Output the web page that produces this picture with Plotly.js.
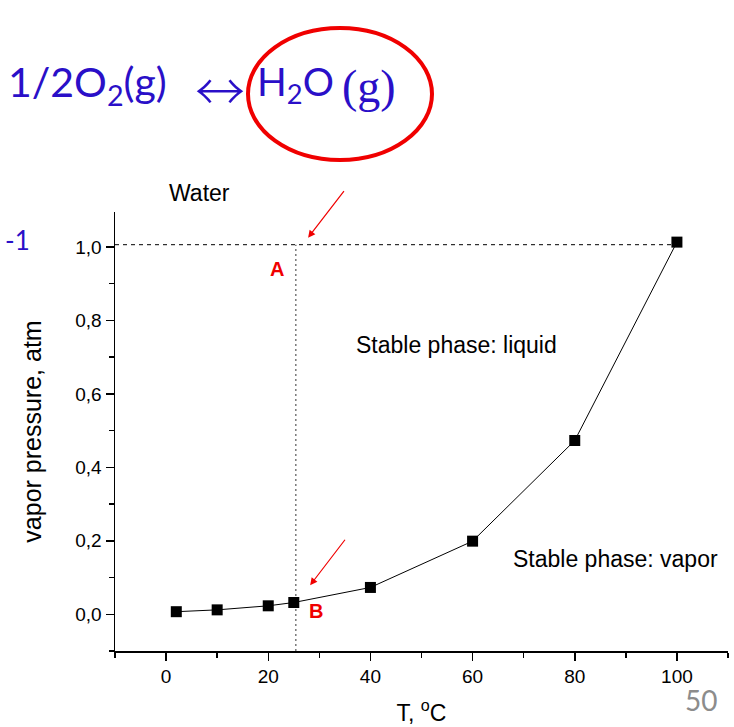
<!DOCTYPE html>
<html><head><meta charset="utf-8">
<script src="https://cdn.plot.ly/plotly-3.0.1.min.js"></script>
<style>html,body{margin:0;padding:0;background:#fff}#c{width:734px;height:727px}</style>
</head><body><div id="c"></div>
<script>
// Data
const tempC = [2, 10, 20, 25, 40, 60, 80, 100];
const vaporAtm = [0.007, 0.012, 0.023, 0.032, 0.073, 0.199, 0.473, 1.013];
const guideH_x = [-10, 100];
const guideH_y = [1.006, 1.006];
const guideV_x = [25.4, 25.4];
const guideV_y = [-0.1, 1.006];
const xTickVals = [0, 20, 40, 60, 80, 100];
const yTickVals = [0, 0.2, 0.4, 0.6, 0.8, 1.0];
const yTickText = ['0,0', '0,2', '0,4', '0,6', '0,8', '1,0'];

// plot area in pixels: left 115, right 728, top 212, bottom 651
const L = 115, R = 728, T = 212, B = 651;
const px = x => (x - L) / (R - L);
const py = y => (B - y) / (B - T);

const traces = [
  {x: guideH_x, y: guideH_y, mode: 'lines', line: {color: '#000', width: 1, dash: '4px,4px'}, hoverinfo: 'skip'},
  {x: guideV_x, y: guideV_y, mode: 'lines', line: {color: '#555', width: 1.2, dash: '2px,3px'}, hoverinfo: 'skip'},
  {x: tempC, y: vaporAtm, mode: 'lines+markers', line: {color: '#000', width: 1},
   marker: {symbol: 'square', size: 11, color: '#000'}}
];

const arial = 'Liberation Sans, Arial, sans-serif';
const blue = '#2a0fc8';
const layout = {
  width: 734, height: 727,
  margin: {l: L, r: 734 - R, t: T, b: 727 - B},
  showlegend: false,
  paper_bgcolor: '#fff', plot_bgcolor: '#fff',
  font: {family: arial, color: '#000', size: 20},
  xaxis: {
    range: [-10, 110], showgrid: false, zeroline: false, showline: true, linecolor: '#000', linewidth: 1.5,
    ticks: 'outside', ticklen: 8, tickwidth: 1.5, tickcolor: '#000', tickvals: xTickVals,
    minor: {ticks: 'outside', ticklen: 5, tickwidth: 1.5, tickcolor: '#000', dtick: 10, tick0: -10},
    tickfont: {size: 19, family: arial},
    title: {text: 'T, <sup>o</sup>C', font: {size: 23, family: arial}, standoff: 18}
  },
  yaxis: {
    range: [-0.1, 1.095], showgrid: false, zeroline: false, showline: true, linecolor: '#000', linewidth: 1.5,
    ticks: 'outside', ticklen: 8, tickwidth: 1.5, tickcolor: '#000', tickvals: yTickVals, ticktext: yTickText,
    minor: {ticks: 'outside', ticklen: 5, tickwidth: 1.5, tickcolor: '#000', dtick: 0.1, tick0: 0},
    tickfont: {size: 19, family: arial},
    title: {text: 'vapor pressure, atm', font: {size: 25, family: arial}, standoff: 26}
  },
  shapes: [
    {type: 'circle', xref: 'paper', yref: 'paper', x0: px(248), x1: px(432), y0: py(28), y1: py(160),
     line: {color: '#f00000', width: 4}}
  ],
  annotations: [
    {xref: 'paper', yref: 'paper', x: px(6), y: py(84), xanchor: 'left', yanchor: 'middle', showarrow: false,
     text: '1/2O<sub>2</sub>(g)', font: {family: 'Lato, Open Sans, sans-serif', size: 41, color: blue}},
    {xref: 'paper', yref: 'paper', x: px(220), y: py(88), xanchor: 'center', yanchor: 'middle', showarrow: false,
     text: '\u2194', font: {family: 'Noto Sans CJK SC, sans-serif', size: 50, weight: 300, color: blue}},
    {xref: 'paper', yref: 'paper', x: px(255), y: py(84), xanchor: 'left', yanchor: 'middle', showarrow: false,
     text: 'H<sub>2</sub>O', font: {family: 'Lato, Open Sans, sans-serif', size: 39, color: blue}},
    {xref: 'paper', yref: 'paper', x: px(398), y: py(87), xanchor: 'right', yanchor: 'middle', showarrow: false,
     text: '(g)', font: {family: 'Liberation Serif, serif', size: 46, color: blue}},
    {xref: 'paper', yref: 'paper', x: px(3), y: py(240), xanchor: 'left', yanchor: 'middle', showarrow: false,
     text: '-1', font: {family: 'Lato, sans-serif', size: 26, color: blue}},
    {xref: 'paper', yref: 'paper', x: px(199), y: py(193), xanchor: 'center', yanchor: 'middle', showarrow: false,
     text: 'Water', font: {family: arial, size: 23, color: '#000'}},
    {x: 21.8, y: 0.94, showarrow: false, text: '<b>A</b>', font: {family: arial, size: 20, color: '#f00000'}},
    {x: 29.3, y: 0.01, showarrow: false, text: '<b>B</b>', font: {family: arial, size: 20, color: '#f00000'}},
    {x: 27.8, y: 1.025, ax: 37, ay: -48, text: '', showarrow: true, arrowcolor: '#f00000', arrowwidth: 1.2, arrowhead: 2, arrowsize: 1.2},
    {x: 28.2, y: 0.079, ax: 36, ay: -47, text: '', showarrow: true, arrowcolor: '#f00000', arrowwidth: 1.2, arrowhead: 2, arrowsize: 1.2},
    {x: 56.8, y: 0.733, showarrow: false, text: 'Stable phase: liquid', font: {family: arial, size: 23, color: '#000'}},
    {x: 88, y: 0.15, showarrow: false, text: 'Stable phase: vapor', font: {family: arial, size: 23, color: '#000'}},
    {xref: 'paper', yref: 'paper', x: px(701), y: py(700), xanchor: 'center', yanchor: 'middle', showarrow: false,
     text: '50', font: {family: 'Lato, sans-serif', size: 28, color: '#8c8c8c'}}
  ]
};
Plotly.newPlot('c', traces, layout, {displayModeBar: false, staticPlot: true});
</script></body></html>
